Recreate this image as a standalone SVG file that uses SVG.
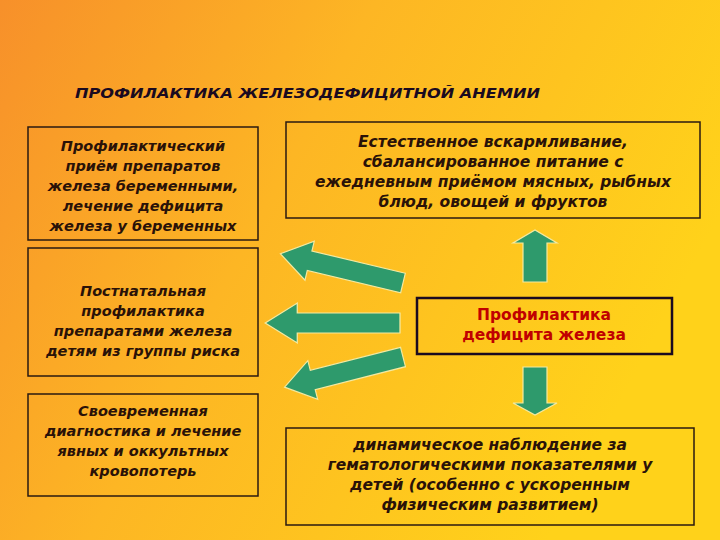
<svg xmlns="http://www.w3.org/2000/svg" width="720" height="540" viewBox="0 0 720 540">
<defs>
<linearGradient id="bg" x1="0" y1="0" x2="1" y2="0.4">
<stop offset="0" stop-color="#f7902a"/><stop offset="0.45" stop-color="#fdb624"/><stop offset="1" stop-color="#ffd21a"/>
</linearGradient>
<polygon id="arr" points="0,-10 -96,-10 -96,-20 -126,0 -96,20 -96,10 0,10"/>
<style>
.box{fill:none;stroke:#2a1a10;stroke-width:1.5}
.t{font-family:"DejaVu Sans",Verdana,sans-serif;font-size:15.5px;font-weight:bold;font-style:italic;fill:#2a1208;text-anchor:middle}
.s{font-size:14.5px}
.c{font-family:"DejaVu Sans",Verdana,sans-serif;font-size:15.5px;font-weight:bold;fill:#c00000;text-anchor:middle}
.a{fill:#2e9a6c;stroke:#f4e9a0;stroke-width:1.2}
</style>
</defs>
<rect width="720" height="540" fill="url(#bg)"/>
<text x="75" y="98" font-family="DejaVu Sans,Verdana,sans-serif" font-size="14" font-weight="bold" font-style="italic" fill="#1a0a20" textLength="465" lengthAdjust="spacingAndGlyphs">ПРОФИЛАКТИКА ЖЕЛЕЗОДЕФИЦИТНОЙ АНЕМИИ</text>
<g id="n1"><rect class="box" x="28" y="127" width="230" height="113"/>
<text class="t s" x="143" y="151">Профилактический<tspan x="143" dy="20">приём препаратов</tspan><tspan x="143" dy="20">железа беременными,</tspan><tspan x="143" dy="20">лечение дефицита</tspan><tspan x="143" dy="20">железа у беременных</tspan></text></g>
<g id="n2"><rect class="box" x="28" y="248" width="230" height="128"/>
<text class="t s" x="143" y="296">Постнатальная<tspan x="143" dy="20">профилактика</tspan><tspan x="143" dy="20">препаратами железа</tspan><tspan x="143" dy="20">детям из группы риска</tspan></text></g>
<g id="n3"><rect class="box" x="28" y="394" width="230" height="102"/>
<text class="t s" x="143" y="416">Своевременная<tspan x="143" dy="20">диагностика и лечение</tspan><tspan x="143" dy="20">явных и оккультных</tspan><tspan x="143" dy="20">кровопотерь</tspan></text></g>
<g id="n4"><rect class="box" x="286" y="122" width="414" height="96"/>
<text class="t" x="493" y="147">Естественное вскармливание,<tspan x="493" dy="20">сбалансированное питание с</tspan><tspan x="493" dy="20">ежедневным приёмом мясных, рыбных</tspan><tspan x="493" dy="20">блюд, овощей и фруктов</tspan></text></g>
<g id="n5"><rect x="417" y="298" width="255" height="56" fill="none" stroke="#1a0a20" stroke-width="2.5"/>
<text class="c" x="544" y="320">Профилактика<tspan x="544" dy="20">дефицита железа</tspan></text></g>
<g id="n6"><rect class="box" x="286" y="428" width="408" height="97"/>
<text class="t" x="490" y="450">динамическое наблюдение за<tspan x="490" dy="20">гематологическими показателями у</tspan><tspan x="490" dy="20">детей (особенно с ускоренным</tspan><tspan x="490" dy="20">физическим развитием)</tspan></text></g>
<g id="connectors">
<use href="#arr" class="a" transform="translate(403,283) rotate(13.4)"/>
<use href="#arr" class="a" transform="translate(400,323) scale(1.07,1)"/>
<use href="#arr" class="a" transform="translate(403,357) rotate(-14.3) scale(0.97,1)"/>
<polygon class="a" points="523,282 523,243 513,243 535,230 557,243 547,243 547,282"/>
<polygon class="a" points="523,367 523,403 513,403 535,415 557,403 547,403 547,367"/>
</g>
</svg>
